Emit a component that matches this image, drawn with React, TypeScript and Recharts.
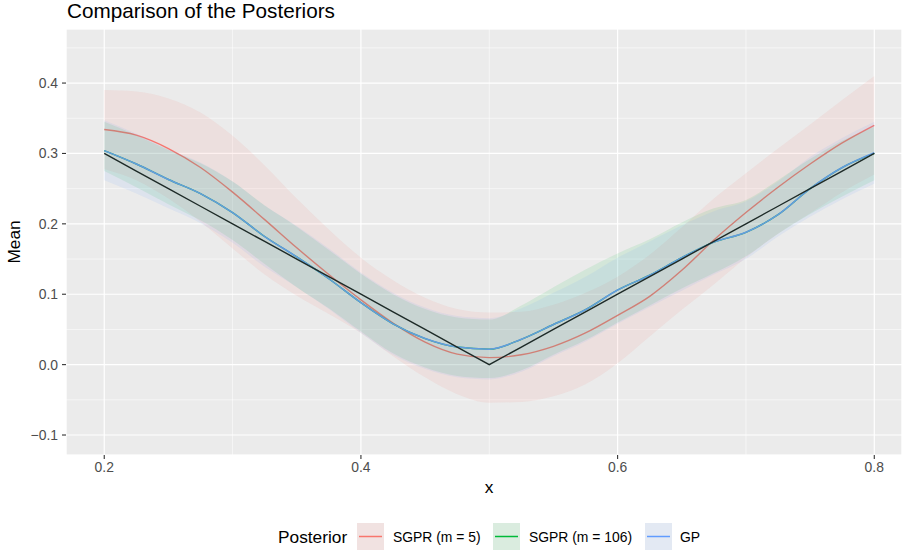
import React from 'react';
import { ComposedChart, Line, Area, XAxis, YAxis, CartesianGrid } from 'recharts';

// ---- data ----
const xValues = [0.2, 0.225, 0.25, 0.275, 0.3, 0.325, 0.35, 0.375, 0.4, 0.425, 0.45, 0.475, 0.5, 0.525, 0.55, 0.575, 0.6, 0.625, 0.65, 0.675, 0.7, 0.725, 0.75, 0.775, 0.8];

const truthValues = [0.3, 0.275, 0.25, 0.225, 0.2, 0.175, 0.15, 0.125, 0.1, 0.075, 0.05, 0.025, 0.0, 0.025, 0.05, 0.075, 0.1, 0.125, 0.15, 0.175, 0.2, 0.225, 0.25, 0.275, 0.3];

const sgpr5Mean = [0.334, 0.326, 0.307, 0.28, 0.245, 0.206, 0.166, 0.128, 0.092, 0.059, 0.032, 0.015, 0.01, 0.014, 0.026, 0.045, 0.07, 0.097, 0.134, 0.177, 0.216, 0.252, 0.285, 0.315, 0.34];
const sgpr5Lower = [0.278, 0.262, 0.236, 0.203, 0.165, 0.128, 0.098, 0.072, 0.045, 0.012, -0.018, -0.042, -0.054, -0.053, -0.045, -0.028, 0.002, 0.04, 0.078, 0.114, 0.152, 0.186, 0.215, 0.245, 0.27];
const sgpr5Upper = [0.39, 0.388, 0.378, 0.358, 0.325, 0.283, 0.236, 0.192, 0.152, 0.12, 0.095, 0.079, 0.074, 0.075, 0.085, 0.102, 0.125, 0.156, 0.195, 0.236, 0.272, 0.307, 0.341, 0.376, 0.41];

const sgpr106Mean = [0.304, 0.285, 0.263, 0.243, 0.216, 0.182, 0.153, 0.122, 0.088, 0.058, 0.037, 0.025, 0.022, 0.036, 0.057, 0.078, 0.106, 0.127, 0.152, 0.174, 0.188, 0.213, 0.25, 0.28, 0.3];
const sgpr106Lower = [0.275, 0.252, 0.228, 0.205, 0.177, 0.143, 0.11, 0.08, 0.047, 0.016, -0.004, -0.016, -0.019, -0.008, 0.014, 0.035, 0.06, 0.084, 0.108, 0.13, 0.154, 0.186, 0.214, 0.239, 0.262];
const sgpr106Upper = [0.345, 0.326, 0.305, 0.286, 0.26, 0.226, 0.196, 0.163, 0.129, 0.1, 0.079, 0.067, 0.064, 0.084, 0.11, 0.135, 0.158, 0.178, 0.202, 0.222, 0.234, 0.262, 0.292, 0.318, 0.338];

const gpMean = [0.304, 0.285, 0.263, 0.243, 0.216, 0.182, 0.153, 0.122, 0.088, 0.058, 0.037, 0.025, 0.022, 0.036, 0.057, 0.078, 0.106, 0.127, 0.152, 0.174, 0.188, 0.213, 0.25, 0.28, 0.301];
const gpLower = [0.262, 0.243, 0.222, 0.201, 0.173, 0.139, 0.11, 0.079, 0.045, 0.014, -0.006, -0.018, -0.021, -0.01, 0.012, 0.033, 0.058, 0.082, 0.105, 0.128, 0.15, 0.182, 0.21, 0.235, 0.257];
const gpUpper = [0.347, 0.328, 0.306, 0.287, 0.26, 0.226, 0.197, 0.165, 0.131, 0.102, 0.081, 0.069, 0.066, 0.08, 0.102, 0.125, 0.152, 0.175, 0.198, 0.218, 0.232, 0.26, 0.295, 0.322, 0.345];

const xTicks = [0.2, 0.4, 0.6, 0.8];
const xMinorTicks = [0.3, 0.5, 0.7];
const yTicks = [-0.1, 0.0, 0.1, 0.2, 0.3, 0.4];
const yMinorTicks = [-0.05, 0.05, 0.15, 0.25, 0.35, 0.45];

const legendLabels = ['SGPR (m = 5)', 'SGPR (m = 106)', 'GP'];
const seriesColors = ['#F8766D', '#00BA38', '#619CFF'];
const keyFills = ['#F1E2E1', '#DAECDF', '#E3E9F3'];

const X_DOMAIN: [number, number] = [0.1702, 0.8216];
const Y_DOMAIN: [number, number] = [-0.1284, 0.4768];

const data = xValues.map((x, i) => ({
  x,
  truth: truthValues[i],
  s5: sgpr5Mean[i],
  s5band: [sgpr5Lower[i], sgpr5Upper[i]],
  s106: sgpr106Mean[i],
  s106band: [sgpr106Lower[i], sgpr106Upper[i]],
  gp: gpMean[i],
  gpband: [gpLower[i], gpUpper[i]],
}));

const FONT = '"Liberation Sans", Arial, Helvetica, sans-serif';

const fmt = (v: number) => (v < 0 ? '\u2212' + Math.abs(v).toFixed(1) : v.toFixed(1));

export default function App() {
  const keyX = [357, 493, 645];
  const textX = [393, 529, 680];
  const lineZ: any = { zIndex: 50 };
  return (
    <div style={{ position: 'absolute', left: 0, top: 0, width: 902, height: 550, background: '#fff', fontFamily: FONT }}>
      <ComposedChart width={902} height={550} data={data} margin={{ top: 29, right: 0, left: 0, bottom: 0 }} style={{ fontFamily: FONT }}>
        <CartesianGrid fill="#EBEBEB" stroke="#FFFFFF" strokeWidth={1.2} horizontal vertical />
        <CartesianGrid xAxisId="minor" yAxisId="minor" stroke="#FFFFFF" strokeWidth={0.55} horizontal vertical />
        <XAxis
          dataKey="x"
          type="number"
          domain={X_DOMAIN}
          ticks={xTicks}
          allowDataOverflow
          axisLine={false}
          tickSize={4}
          tickMargin={3}
          tickLine={{ stroke: '#333333', strokeWidth: 1.1 }}
          tick={{ fill: '#4D4D4D', fontSize: 13.9, fontFamily: FONT }}
          tickFormatter={(v: number) => v.toFixed(1)}
          height={95}
          interval={0}
        />
        <XAxis xAxisId="minor" dataKey="x" type="number" domain={X_DOMAIN} ticks={xMinorTicks} allowDataOverflow hide />
        <YAxis
          type="number"
          domain={Y_DOMAIN}
          ticks={yTicks}
          allowDataOverflow
          axisLine={false}
          tickSize={4}
          tickMargin={4}
          tickLine={{ stroke: '#333333', strokeWidth: 1.1 }}
          tick={{ fill: '#4D4D4D', fontSize: 13.9, fontFamily: FONT }}
          tickFormatter={fmt}
          width={66}
          interval={0}
        />
        <YAxis yAxisId="minor" type="number" domain={Y_DOMAIN} ticks={yMinorTicks} allowDataOverflow hide />

        <Line {...lineZ} dataKey="s5" type="monotone" stroke={seriesColors[0]} strokeWidth={1.4} dot={false} isAnimationActive={false} />
        <Line {...lineZ} dataKey="s106" type="monotone" stroke={seriesColors[1]} strokeWidth={1.4} dot={false} isAnimationActive={false} />
        <Line {...lineZ} dataKey="gp" type="monotone" stroke={seriesColors[2]} strokeWidth={1.5} dot={false} isAnimationActive={false} />
        <Line {...lineZ} dataKey="truth" type="linear" stroke="#000000" strokeWidth={1.4} dot={false} isAnimationActive={false} />

        <Area dataKey="s5band" type="monotone" stroke="none" fill={seriesColors[0]} fillOpacity={0.1} isAnimationActive={false} />
        <Area dataKey="s106band" type="monotone" stroke="none" fill={seriesColors[1]} fillOpacity={0.1} isAnimationActive={false} />
        <Area dataKey="gpband" type="monotone" stroke="none" fill={seriesColors[2]} fillOpacity={0.1} isAnimationActive={false} />
      </ComposedChart>

      <svg width={902} height={550} style={{ position: 'absolute', left: 0, top: 0, pointerEvents: 'none' }} fontFamily={FONT}>
        <text x={67} y={18} fontSize={20.7} fill="#000">Comparison of the Posteriors</text>
        <text x={489} y={493} fontSize={17.3} fill="#000" textAnchor="middle">x</text>
        <text transform="translate(20,242) rotate(-90)" fontSize={17.3} fill="#000" textAnchor="middle">Mean</text>
        <text x={278} y={543} fontSize={17.3} fill="#000">Posterior</text>
        {legendLabels.map((lab, i) => (
          <g key={lab}>
            <rect x={keyX[i]} y={523} width={27} height={27} fill={keyFills[i]} />
            <line x1={keyX[i] + 2} x2={keyX[i] + 25} y1={536.5} y2={536.5} stroke={seriesColors[i]} strokeWidth={1.5} />
            <text x={textX[i]} y={541.5} fontSize={13.9} fill="#000">{lab}</text>
          </g>
        ))}
      </svg>
    </div>
  );
}
